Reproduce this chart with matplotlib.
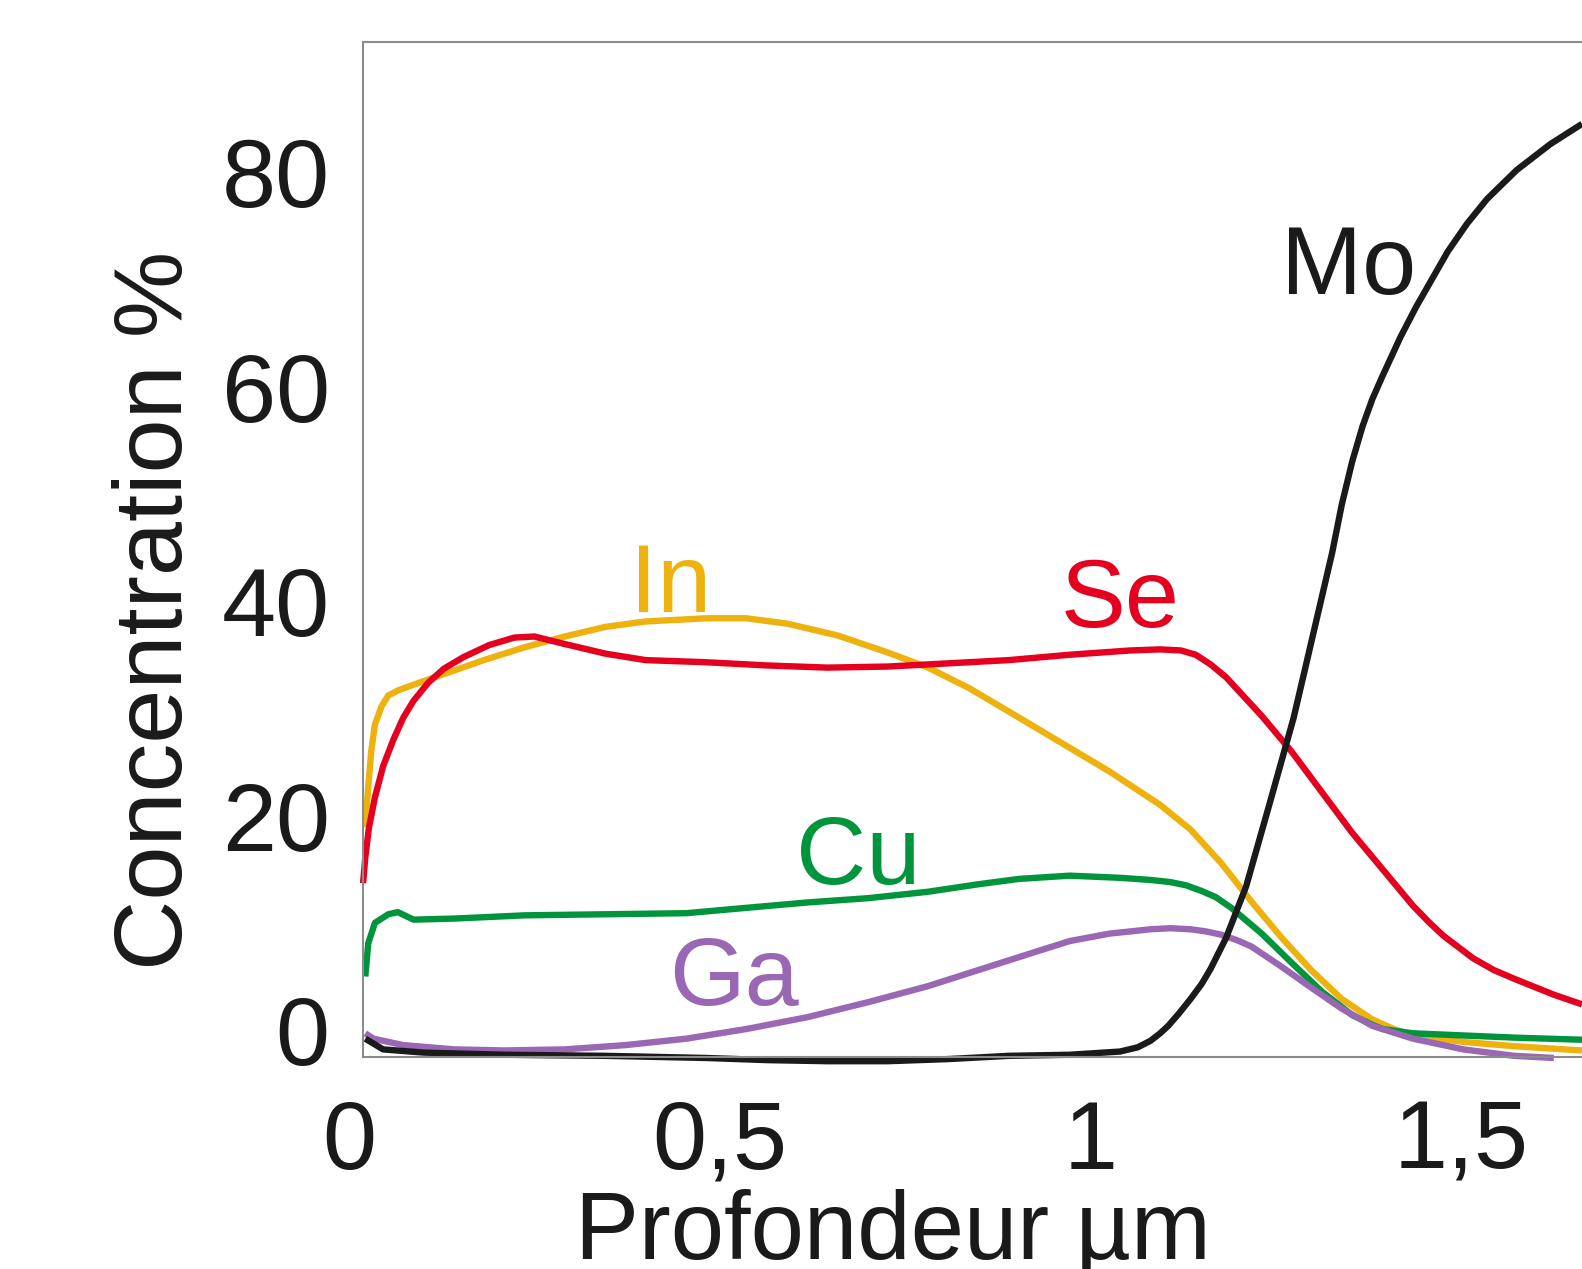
import matplotlib
matplotlib.use('Agg')
import matplotlib.pyplot as plt
import matplotlib.transforms as mtransforms

plt.rcParams['font.family'] = ['Liberation Sans', 'DejaVu Sans']

# depth (um) and concentration (%)
x_in = [0.003, 0.007, 0.011, 0.016, 0.025, 0.034, 0.048, 0.068, 0.109, 0.163, 0.218, 0.245, 0.272,
        0.327, 0.381, 0.463, 0.517, 0.572, 0.640, 0.708, 0.762, 0.817, 0.871, 0.939, 1.007, 1.075,
        1.116, 1.157, 1.198, 1.239, 1.280, 1.320, 1.361, 1.390, 1.416, 1.484, 1.552, 1.644]
y_in = [18.9, 22.7, 26.0, 28.5, 30.2, 31.2, 31.7, 32.2, 33.2, 34.5, 35.7, 36.2, 36.7,
        37.6, 38.1, 38.4, 38.4, 37.9, 36.8, 35.2, 33.8, 31.9, 29.7, 26.9, 24.1, 21.0,
        18.7, 15.6, 12.0, 8.6, 5.5, 2.9, 1.0, 0.1, -0.5, -1.1, -1.5, -1.9]

x_se = [0.0, 0.003, 0.008, 0.016, 0.027, 0.041, 0.054, 0.068, 0.088, 0.109, 0.136, 0.170, 0.204,
        0.231, 0.272, 0.327, 0.381, 0.463, 0.545, 0.626, 0.708, 0.790, 0.871, 0.953, 1.035, 1.075,
        1.103, 1.123, 1.143, 1.164, 1.184, 1.212, 1.252, 1.293, 1.334, 1.375, 1.416, 1.437, 1.457,
        1.497, 1.525, 1.552, 1.606, 1.644]
y_se = [13.7, 16.1, 18.9, 21.7, 24.6, 27.1, 29.1, 30.7, 32.4, 33.7, 34.8, 35.9, 36.6,
        36.7, 36.0, 35.1, 34.5, 34.3, 34.0, 33.8, 33.9, 34.2, 34.5, 35.0, 35.4, 35.5,
        35.4, 35.0, 34.1, 32.9, 31.4, 29.3, 26.0, 22.2, 18.4, 15.0, 11.6, 10.1, 8.8,
        6.7, 5.6, 4.8, 3.3, 2.4]

x_cu = [0.003, 0.007, 0.016, 0.034, 0.047, 0.068, 0.123, 0.218, 0.327, 0.436, 0.517, 0.599, 0.681,
        0.762, 0.830, 0.885, 0.953, 1.021, 1.062, 1.089, 1.110, 1.130, 1.150, 1.171, 1.212, 1.252,
        1.293, 1.334, 1.361, 1.375, 1.416, 1.484, 1.552, 1.644]
y_cu = [5.0, 8.1, 10.0, 10.8, 11.0, 10.3, 10.4, 10.7, 10.8, 10.9, 11.4, 11.9, 12.3,
        12.9, 13.6, 14.1, 14.4, 14.2, 14.0, 13.8, 13.5, 13.0, 12.4, 11.4, 9.0, 6.3,
        3.6, 1.4, 0.5, 0.1, -0.3, -0.5, -0.7, -0.9]

x_ga = [0.003, 0.014, 0.054, 0.123, 0.191, 0.272, 0.354, 0.436, 0.517, 0.599, 0.681, 0.762, 0.830,
        0.898, 0.953, 1.007, 1.035, 1.062, 1.089, 1.116, 1.137, 1.157, 1.178, 1.198, 1.239, 1.280,
        1.320, 1.361, 1.416, 1.484, 1.552, 1.606]
y_ga = [-0.3, -0.8, -1.4, -1.8, -1.9, -1.8, -1.4, -0.8, 0.1, 1.2, 2.6, 4.1, 5.6,
        7.1, 8.3, 9.0, 9.2, 9.4, 9.5, 9.4, 9.2, 8.9, 8.4, 7.8, 5.9, 3.9,
        2.0, 0.4, -0.8, -1.8, -2.4, -2.6]

x_mo = [0.003, 0.027, 0.082, 0.191, 0.327, 0.463, 0.545, 0.626, 0.708, 0.790, 0.871, 0.953, 1.021,
        1.045, 1.062, 1.075, 1.086, 1.101, 1.116, 1.131, 1.143, 1.164, 1.191, 1.223, 1.255, 1.280,
        1.307, 1.320, 1.334, 1.348, 1.361, 1.375, 1.399, 1.420, 1.439, 1.463, 1.489, 1.516, 1.556,
        1.601, 1.644]
y_mo = [-0.8, -1.8, -2.1, -2.3, -2.4, -2.6, -2.8, -2.9, -2.9, -2.7, -2.4, -2.3, -2.0,
        -1.6, -1.0, -0.3, 0.4, 1.6, 2.9, 4.3, 5.7, 8.6, 13.4, 21.2, 29.1, 36.5,
        44.5, 49.0, 53.0, 56.3, 58.8, 61.0, 64.6, 67.4, 69.7, 72.6, 75.2, 77.5, 80.2,
        82.6, 84.5]

series = [
    ('In', x_in, y_in, '#EEB20F', 0.415, 39.0),
    ('Se', x_se, y_se, '#E4001E', 1.021, 37.6),
    ('Cu', x_cu, y_cu, '#00953D', 0.668, 13.6),
    ('Ga', x_ga, y_ga, '#9A67B4', 0.500, 2.35),
    ('Mo', x_mo, y_mo, '#1A1A1A', 1.329, 68.6),
]

xticks = [0, 0.5, 1, 1.5]
xtick_labels = ['0', '0,5', '1', '1,5']
yticks = [0, 20, 40, 60, 80]

fig = plt.figure(figsize=(15.82, 12.69), dpi=100)
ax = fig.add_axes([0.2295, 0.1668, 0.7705, 0.7998])

for name, xs, ys, col, tx, ty in series:
    ax.plot(xs, ys, color=col, lw=4.6, solid_joinstyle='round', solid_capstyle='butt', clip_on=False)
    ax.text(tx, ty, name, color=col, fontsize=70, ha='center', va='baseline')

ax.set_xlim(0, 1.644)
ax.set_ylim(-2.54, 92.1)

ax.set_xticks(xticks)
ax.set_xticklabels(xtick_labels)
ax.set_yticks(yticks)
ax.tick_params(axis='both', length=0, labelsize=70, colors='#1a1a1a')
ax.tick_params(axis='y', pad=24)
ax.tick_params(axis='x', pad=30)

# tick labels sit a little left of the tick positions
shift = mtransforms.ScaledTranslation(-0.14, 0, fig.dpi_scale_trans)
for lab in ax.get_xticklabels():
    lab.set_transform(lab.get_transform() + shift)

for side in ['left', 'top', 'bottom']:
    ax.spines[side].set_color('#8c8c8c')
    ax.spines[side].set_linewidth(1.5)
ax.spines['right'].set_visible(False)

# the x label runs off the bottom edge, as in the source crop
ax.set_xlabel('Profondeur µm', fontsize=69, color='#1a1a1a')
ax.xaxis.set_label_coords(0.435, -0.13)
ax.set_ylabel('Concentration %', fontsize=70, color='#1a1a1a')
ax.yaxis.set_label_coords(-0.132, 0.44)

fig.savefig('out.png', dpi=100)
